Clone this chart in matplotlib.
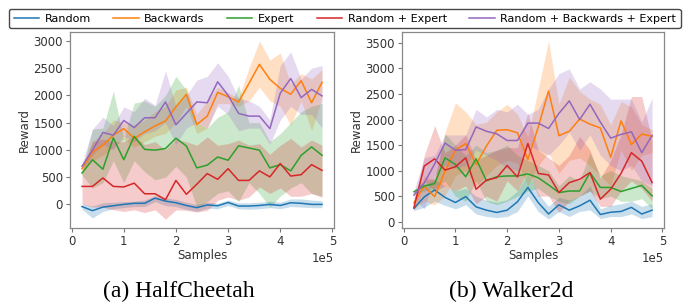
import numpy as np
import matplotlib
matplotlib.use("Agg")
import matplotlib.pyplot as plt

# training samples (x axis)
samples = [20000, 40000, 60000, 80000, 100000, 120000, 140000, 160000,
           180000, 200000, 220000, 240000, 260000, 280000, 300000, 320000,
           340000, 360000, 380000, 400000, 420000, 440000, 460000, 480000]

labels = ["Random", "Backwards", "Expert", "Random + Expert",
          "Random + Backwards + Expert"]

# ---- HalfCheetah: mean, lower, upper ----
hc_random = [-40, -115, -50, -25, 0, 20, 20, 115, 60, 30, -20, -60,
             -10, -25, 35, -30, -30, -20, 0, -20, 30, 20, 0, 0]
hc_random_lo = [-90, -250, -130, -80, -60, -40, -40, 50, -20, -40, -90, -130,
                -70, -80, -20, -80, -90, -80, -60, -80, -40, -50, -60, -60]
hc_random_hi = [10, -30, 30, 40, 50, 60, 80, 160, 120, 90, 40, 0,
                40, 20, 80, 30, 30, 40, 60, 40, 100, 100, 80, 70]

hc_back = [655, 960, 1085, 1270, 1390, 1210, 1330, 1440, 1530, 1790, 2020, 1465,
           1620, 2055, 1975, 1880, 2220, 2570, 2295, 2130, 2020, 2270, 1865, 2240]
hc_back_lo = [600, 800, 900, 1050, 1200, 1050, 1150, 1250, 1300, 1500, 1800, 1300,
              1400, 1850, 1850, 1800, 1900, 2150, 1900, 1800, 1450, 1900, 1350, 1950]
hc_back_hi = [700, 1150, 1300, 1550, 1500, 1450, 1550, 1700, 1800, 2100, 2150, 1650,
              1900, 2150, 2050, 1950, 2500, 3000, 2650, 2780, 2200, 2400, 2300, 2470]

hc_expert = [575, 820, 645, 1220, 820, 1250, 1010, 995, 1025, 1215, 1070, 670,
             720, 870, 810, 1075, 1035, 995, 670, 730, 615, 900, 1055, 900]
hc_expert_lo = [540, 300, 400, 800, 400, 800, 600, 450, 500, 700, 500, -50,
                50, 200, 250, 50, 400, 200, -50, 150, 300, 400, 200, 150]
hc_expert_hi = [610, 1380, 1400, 2080, 1200, 1860, 1900, 1800, 2000, 2350, 2100, 1500,
                1400, 1600, 1700, 2190, 1500, 1500, 1150, 1300, 1500, 1700, 1800, 1850]

hc_rexp = [330, 330, 485, 330, 320, 390, 195, 195, 85, 440, 185, 370,
           565, 460, 655, 440, 440, 615, 505, 750, 520, 545, 730, 625]
hc_rexp_lo = [10, -50, -50, -100, -130, -100, -150, -100, -270, -100, -110, -140,
              -110, 75, 135, 75, 135, 320, 200, 300, 150, 150, 200, 130]
hc_rexp_hi = [600, 1150, 1200, 1150, 1150, 1250, 1100, 1150, 1000, 1200, 1150, 1085,
              1240, 1085, 1115, 1180, 1085, 1115, 920, 1085, 1210, 1055, 1180, 1085]

hc_all = [700, 995, 1320, 1270, 1540, 1410, 1590, 1590, 1880, 1460, 1670, 1880,
          1865, 2250, 2000, 1670, 1620, 1620, 1390, 2040, 2310, 1960, 2110, 1990]
hc_all_lo = [650, 900, 1100, 1000, 1250, 1150, 1300, 1350, 1500, 1100, 1400, 1500,
             1400, 1800, 1650, 1350, 1400, 1400, 1100, 1550, 1800, 1650, 1650, 1400]
hc_all_hi = [750, 1380, 1600, 1450, 1790, 1700, 1950, 1820, 2450, 1800, 2000, 2280,
             2350, 2600, 2350, 1950, 1900, 1800, 1550, 2550, 2800, 2300, 2500, 2550]

# ---- Walker2d: mean, lower, upper ----
wk_random = [260, 485, 620, 475, 375, 490, 290, 225, 180, 225, 390, 670,
             375, 150, 330, 225, 310, 420, 140, 185, 200, 280, 150, 225]
wk_random_lo = [220, 280, 400, 320, 250, 330, 150, 100, 80, 100, 200, 500,
                200, 50, 200, 100, 200, 230, 60, 100, 100, 150, 60, 100]
wk_random_hi = [300, 700, 830, 700, 600, 650, 500, 420, 380, 430, 600, 950,
                550, 300, 480, 420, 500, 700, 250, 320, 350, 400, 300, 350]

wk_back = [370, 690, 490, 990, 1400, 1530, 1120, 1480, 1790, 1800, 1740, 1220,
           1850, 2560, 1685, 1770, 2010, 1910, 1835, 1260, 1975, 1510, 1715, 1670]
wk_back_lo = [250, 400, 330, 500, 900, 1000, 700, 900, 1100, 1200, 1150, 700,
              1100, 1350, 950, 1200, 1250, 1100, 900, 700, 1400, 1000, 1300, 1350]
wk_back_hi = [450, 900, 800, 1750, 2330, 2150, 1900, 1950, 2150, 2300, 2100, 1650,
              2600, 3540, 2300, 2830, 2550, 2400, 2300, 1900, 2350, 2250, 1900, 1800]

wk_expert = [585, 700, 745, 1250, 1120, 880, 1230, 800, 880, 895, 895, 935,
             860, 720, 570, 600, 600, 960, 670, 670, 590, 650, 710, 505]
wk_expert_lo = [550, 600, 650, 800, 500, 400, 800, 400, 330, 400, 500, 600,
                650, 500, 400, 350, 500, 600, 450, 500, 400, 400, 450, 250]
wk_expert_hi = [620, 800, 850, 1720, 1500, 1300, 1500, 1350, 1400, 1500, 1300, 1200,
                1100, 1000, 700, 900, 800, 1350, 900, 1000, 900, 850, 800, 650]

wk_rexp = [280, 1090, 1230, 1010, 1075, 1250, 635, 815, 860, 1100, 875, 1530,
           945, 915, 570, 765, 830, 960, 440, 635, 945, 1350, 1185, 765]
wk_rexp_lo = [200, 800, 600, 700, 600, 700, 350, 500, 400, 800, 600, 1000,
              500, 500, 180, 400, 500, 600, 300, 300, 600, 800, 650, 400]
wk_rexp_hi = [400, 1300, 1880, 1350, 1500, 1700, 1200, 1300, 1400, 1450, 1450, 2130,
              1400, 1250, 1100, 1300, 1670, 1400, 850, 1200, 1700, 2450, 2450, 1600]

wk_all = [520, 760, 1130, 1540, 1400, 1410, 1855, 1770, 1720, 1590, 1590, 1930,
          1930, 1825, 2120, 2365, 2000, 2300, 1950, 1635, 1710, 1760, 1350, 1690]
wk_all_lo = [450, 250, 900, 1100, 1050, 1100, 1400, 1300, 1200, 1050, 1000, 1500,
             1400, 1300, 1500, 1750, 1400, 1700, 1300, 1100, 1000, 1100, 800, 700]
wk_all_hi = [600, 1250, 1300, 1700, 1700, 1700, 2200, 2050, 2200, 2150, 2300, 2100,
             2200, 2600, 2900, 2990, 2600, 2740, 2600, 2400, 2400, 2400, 1950, 2420]

colors = ["tab:blue", "tab:orange", "tab:green", "tab:red", "tab:purple"]

hc_series = [(hc_random, hc_random_lo, hc_random_hi),
             (hc_back, hc_back_lo, hc_back_hi),
             (hc_expert, hc_expert_lo, hc_expert_hi),
             (hc_rexp, hc_rexp_lo, hc_rexp_hi),
             (hc_all, hc_all_lo, hc_all_hi)]
wk_series = [(wk_random, wk_random_lo, wk_random_hi),
             (wk_back, wk_back_lo, wk_back_hi),
             (wk_expert, wk_expert_lo, wk_expert_hi),
             (wk_rexp, wk_rexp_lo, wk_rexp_hi),
             (wk_all, wk_all_lo, wk_all_hi)]

fig = plt.figure(figsize=(6.94, 3.08), dpi=100)
ax1 = fig.add_axes([0.1009, 0.2597, 0.3804, 0.6364])
ax2 = fig.add_axes([0.5793, 0.2597, 0.3775, 0.6364])

text_col = "#333333"
for ax, series in [(ax1, hc_series), (ax2, wk_series)]:
    for (m, lo, hi), c, lab in zip(series, colors, labels):
        ax.fill_between(samples, lo, hi, color=c, alpha=0.24, linewidth=0)
        ax.plot(samples, m, color=c, lw=1.1, label=lab)
    ax.set_xlim(-3000, 503000)
    ax.set_xticks([0, 100000, 200000, 300000, 400000, 500000])
    ax.ticklabel_format(style="sci", axis="x", scilimits=(0, 0))
    ax.xaxis.get_offset_text().set_fontsize(8.5)
    ax.xaxis.get_offset_text().set_color(text_col)
    ax.set_xlabel("Samples", fontsize=8.5, color=text_col, labelpad=1)
    ax.set_ylabel("Reward", fontsize=8.5, color=text_col, labelpad=2)
    ax.tick_params(labelsize=8.5, colors="#777777", labelcolor=text_col,
                   length=3, pad=2)
    for s in ax.spines.values():
        s.set_color("#888888")
        s.set_linewidth(0.9)

ax1.set_yticks([0, 500, 1000, 1500, 2000, 2500, 3000])
ax2.set_yticks([0, 500, 1000, 1500, 2000, 2500, 3000, 3500])

handles, labs = ax1.get_legend_handles_labels()
fig.legend(handles, labs, loc="upper center", bbox_to_anchor=(0.497, 0.988),
           ncol=5, fontsize=8, frameon=True, edgecolor="0.1",
           handlelength=2.3, handletextpad=0.5, columnspacing=2.0,
           borderpad=0.4, fancybox=True)

cap_font = ["Liberation Serif", "DejaVu Serif"]
fig.text(0.258, 0.036, "(a) HalfCheetah", fontsize=17, family=cap_font,
         ha="center", va="baseline")
fig.text(0.737, 0.036, "(b) Walker2d", fontsize=17, family=cap_font,
         ha="center", va="baseline")

fig.savefig("out.png", dpi=100)
